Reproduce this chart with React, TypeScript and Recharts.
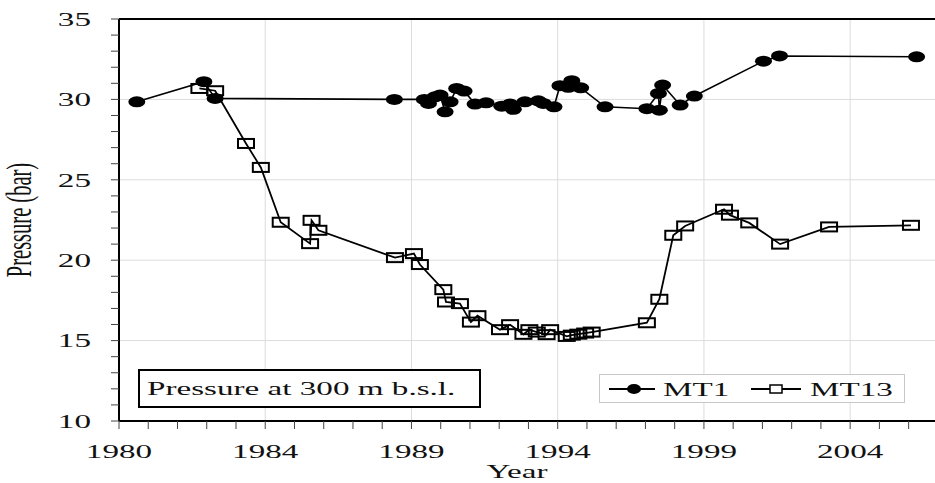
import React from 'react';
import { LineChart, Line, XAxis, YAxis, CartesianGrid, Legend, ReferenceLine } from 'recharts';

// MT1 well (filled circles)
const MT1_YEARS = [
  1980.6, 1982.86, 1983.24, 1989.28, 1990.29, 1990.43, 1990.65, 1990.82, 1990.99, 1991.16,
  1991.38, 1991.63, 1992.0, 1992.37, 1992.9, 1993.18, 1993.29, 1993.68, 1994.13, 1994.3,
  1994.66, 1994.86, 1995.14, 1995.26, 1995.56, 1996.38, 1997.79, 1998.18, 1998.21, 1998.32,
  1998.91, 1999.39, 2001.72, 2002.26, 2006.88,
];
const MT1_PRESSURE = [
  29.85, 31.1, 30.06, 30.0, 30.0, 29.75, 30.16, 30.27, 29.23, 29.85,
  30.68, 30.52, 29.71, 29.79, 29.58, 29.71, 29.38, 29.85, 29.91, 29.75,
  29.54, 30.85, 30.75, 31.16, 30.72, 29.54, 29.42, 30.37, 29.33, 30.89,
  29.65, 30.21, 32.38, 32.7, 32.65,
];

// MT13 well (open squares)
const MT13_YEARS = [
  1982.71, 1983.24, 1984.28, 1984.78, 1985.45, 1986.44, 1986.49, 1986.72, 1989.3, 1989.94,
  1990.14, 1990.93, 1991.02, 1991.49, 1991.86, 1992.08, 1992.84, 1993.18, 1993.63, 1993.83,
  1994.08, 1994.41, 1994.53, 1995.09, 1995.26, 1995.48, 1995.71, 1995.93, 1997.79, 1998.21,
  1998.68, 1999.08, 2000.39, 2000.59, 2001.24, 2002.28, 2003.93, 2006.69,
];
const MT13_PRESSURE = [
  30.68, 30.54, 27.26, 25.77, 22.36, 21.03, 22.48, 21.86, 20.16, 20.41,
  19.73, 18.17, 17.4, 17.3, 16.15, 16.55, 15.68, 15.99, 15.39, 15.68,
  15.53, 15.37, 15.68, 15.26, 15.34, 15.4, 15.47, 15.53, 16.11, 17.57,
  21.55, 22.13, 23.17, 22.8, 22.32, 21.0, 22.07, 22.17,
];

const YEAR_LABELS = ['1980', '1984', '1989', '1994', '1999', '2004'];
const PRESSURE_LABELS = [15, 20, 25, 30];

const FONT = '"Liberation Serif", "Times New Roman", serif';
const STRETCH = 1.7;
const FS = 19.5;

// date axis like the spreadsheet: minor unit 360 days, major 1800 days
const MINOR_STEP = 360 / 365.25;
const X_TICKS = Array.from({ length: 28 }, (_, i) => 1980 + i * MINOR_STEP);
const MAJOR_X = X_TICKS.filter((_, i) => i % 5 === 0);
const Y_TICKS = Array.from({ length: 26 }, (_, i) => 10 + i);

const mt1 = MT1_YEARS.map((year, i) => ({ year, p: MT1_PRESSURE[i] }));
const mt13 = MT13_YEARS.map((year, i) => ({ year, p: MT13_PRESSURE[i] }));

const YearTick = (props: any) => {
  const { x, y, payload } = props;
  const i = Math.round((payload.value - 1980) / MINOR_STEP);
  if (i % 5 !== 0) return <g />;
  return (
    <text transform={`translate(${x},${y + 27}) scale(${STRETCH},1)`} textAnchor="middle"
      fontFamily={FONT} fontSize={FS} fill="#111">
      {YEAR_LABELS[i / 5]}
    </text>
  );
};

const PressureTick = (props: any) => {
  const { x, y, payload } = props;
  if (payload.value % 5 !== 0) return <g />;
  return (
    <text transform={`translate(${x - 18},${y + 6.7}) scale(${STRETCH},1)`} textAnchor="end"
      fontFamily={FONT} fontSize={FS} fill="#111">
      {payload.value}
    </text>
  );
};

const YLabel = (props: any) => {
  const vb = props.viewBox || { x: 0, y: 19, width: 119, height: 402 };
  const cy = vb.y + vb.height / 2;
  return (
    <text transform={`translate(${vb.x + 31},${cy}) scale(${STRETCH},1) rotate(-90)`} textAnchor="middle"
      fontFamily={FONT} fontSize={20.5} fill="#111">
      Pressure (bar)
    </text>
  );
};

const XLabel = (props: any) => {
  const vb = props.viewBox || { x: 119, y: 421, width: 816, height: 62 };
  return (
    <text transform={`translate(${vb.x + vb.width / 2 - 10},${vb.y + 57}) scale(${STRETCH},1)`} textAnchor="middle"
      fontFamily={FONT} fontSize={FS} fill="#111">
      Year
    </text>
  );
};

const CircleDot = (p: any) => (
  <ellipse key={`c${p.index}`} cx={p.cx} cy={p.cy} rx={8.5} ry={5.5} fill="#000" />
);

const SquareDot = (p: any) => (
  <rect key={`s${p.index}`} x={p.cx - 8} y={p.cy - 4.5} width={16} height={9}
    fill="none" stroke="#000" strokeWidth={2} />
);

const LegendBox = () => (
  <svg width={306} height={29} style={{ display: 'block' }}>
    <rect x={0.5} y={0.5} width={305} height={28} fill="#fff" stroke="#c8c8c8" />
    <line x1={10} x2={56} y1={15} y2={15} stroke="#000" strokeWidth={1.8} />
    <ellipse cx={35} cy={15} rx={7} ry={5} fill="#000" />
    <text transform={`translate(64,22) scale(${STRETCH},1)`} fontFamily={FONT} fontSize={FS} fill="#111">MT1</text>
    <line x1={152} x2={202} y1={15} y2={15} stroke="#000" strokeWidth={1.8} />
    <rect x={171} y={11} width={12} height={8} fill="#fff" stroke="#000" strokeWidth={1.5} />
    <text transform={`translate(211,22) scale(${STRETCH},1)`} fontFamily={FONT} fontSize={FS} fill="#111">MT13</text>
  </svg>
);

export default function App() {
  return (
    <div style={{ position: 'absolute', left: 0, top: 0, width: 935, height: 483, background: '#fff' }}>
      <LineChart width={935} height={483} margin={{ top: 19, right: 0, bottom: 0, left: 0 }}>
        <CartesianGrid stroke="#dcdcdc" horizontalValues={PRESSURE_LABELS} verticalValues={MAJOR_X.slice(1)} />
        <XAxis type="number" dataKey="year" domain={[1980, 2007.5]} ticks={X_TICKS} interval={0}
          allowDataOverflow height={62} tickSize={8} tick={<YearTick />}
          axisLine={{ stroke: '#000', strokeWidth: 2 }} tickLine={{ stroke: '#444' }}
          label={{ content: <XLabel /> }} />
        <YAxis type="number" domain={[10, 35]} ticks={Y_TICKS} interval={0} width={119}
          tickSize={8} tick={<PressureTick />}
          axisLine={{ stroke: '#000', strokeWidth: 2 }} tickLine={{ stroke: '#444' }}
          label={{ content: <YLabel /> }} />
        <ReferenceLine y={35} stroke="#000" strokeWidth={2} />
        <Legend layout="horizontal" verticalAlign="middle" align="center" content={<LegendBox />}
          wrapperStyle={{ left: 599, top: 374, width: 306, height: 29 }} />
        <Line data={mt13} dataKey="p" name="MT13" type="linear" stroke="#000" strokeWidth={1.8}
          dot={SquareDot} activeDot={false} isAnimationActive={false} />
        <Line data={mt1} dataKey="p" name="MT1" type="linear" stroke="#000" strokeWidth={1.6}
          dot={CircleDot} activeDot={false} isAnimationActive={false} />
      </LineChart>
      <svg width={935} height={483} style={{ position: 'absolute', left: 0, top: 0, pointerEvents: 'none' }}>
        <rect x={139} y={370} width={341} height={37} fill="#fff" stroke="#000" strokeWidth={2} />
        <text transform={`translate(147,395) scale(${STRETCH},1)`} fontFamily={FONT} fontSize={FS} fill="#111">
          Pressure at 300 m b.s.l.
        </text>
      </svg>
    </div>
  );
}
